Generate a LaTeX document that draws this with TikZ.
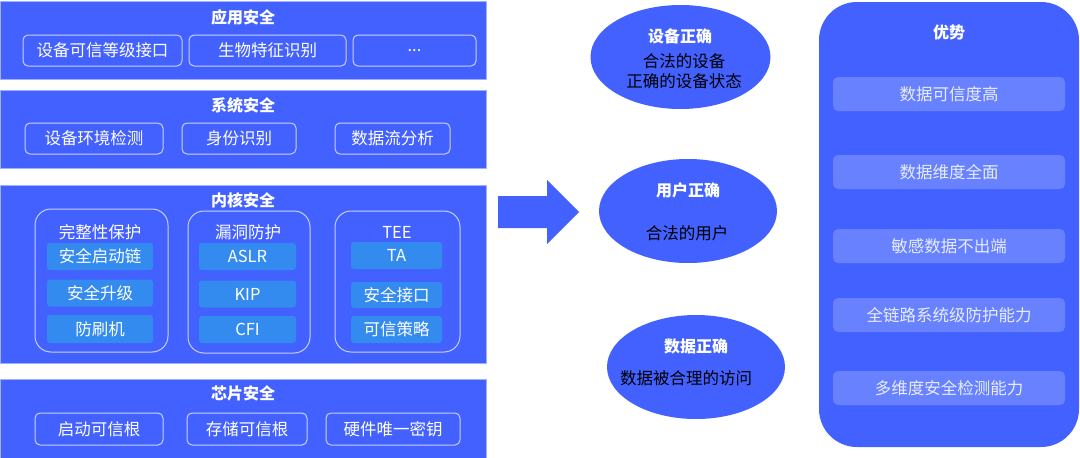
\documentclass[tikz,border=0pt]{standalone}
\usepackage{fontspec}
\setmainfont{Noto Sans CJK SC}
\usetikzlibrary{shapes.geometric}
\definecolor{mainblue}{RGB}{67,97,255}
\definecolor{innerblue}{RGB}{51,139,239}
\definecolor{lineblue}{RGB}{200,208,255}
\definecolor{itemfill}{RGB}{104,130,255}
\definecolor{itemtext}{RGB}{232,236,255}
\begin{document}
\begin{tikzpicture}[x=1pt,y=-1pt,
  txt/.style={font=\fontsize{16.5}{18}\selectfont, text=white, inner sep=0pt},
  ttl/.style={font=\fontsize{16}{18}\selectfont\bfseries, text=white, inner sep=0pt},
  layerbox/.style={fill=mainblue, draw=lineblue!70!mainblue, line width=0.8pt, inner sep=0pt},
  subbox/.style={draw=lineblue, line width=1pt, rounded corners=5pt, inner sep=0pt, font=\fontsize{16.5}{18}\selectfont, text=white},
  groupbox/.style={draw=lineblue, line width=1pt, rounded corners=16pt, inner sep=0pt},
  innerbox/.style={fill=innerblue, rounded corners=3pt, inner sep=0pt, font=\fontsize{16.5}{18}\selectfont, text=white},
  ell/.style={ellipse, fill=mainblue, draw=none, inner sep=0pt},
  etxt/.style={font=\fontsize{16.5}{18}\selectfont, text=black, inner sep=0pt},
  item/.style={fill=itemfill, rounded corners=5pt, inner sep=0pt, minimum width=232pt, minimum height=34pt, font=\fontsize{16.5}{18}\selectfont, text=itemtext}
]
\useasboundingbox (0,0) rectangle (1080,458);

% layers
\node[layerbox, minimum width=486pt, minimum height=78pt] (L1) at (243,40) {};
\node[layerbox, minimum width=486pt, minimum height=78pt] (L2) at (243,129) {};
\node[layerbox, minimum width=486pt, minimum height=178pt] (L3) at (243,274) {};
\node[layerbox, minimum width=486pt, minimum height=79pt] (L4) at (243,418.5) {};

\node[ttl] (t1) at (243,17) {应用安全};
\node[ttl] (t2) at (243,105) {系统安全};
\node[ttl] (t3) at (243,200) {内核安全};
\node[ttl] (t4) at (243,393) {芯片安全};

% app layer
\node[subbox, minimum width=159pt, minimum height=31pt] (a1) at (102.5,50.5) {设备可信等级接口};
\node[subbox, minimum width=157pt, minimum height=31pt] (a2) at (267.5,50.5) {生物特征识别};
\node[subbox, minimum width=123pt, minimum height=31pt] (a3) at (414.5,50.5) {...};

% system layer
\node[subbox, minimum width=138pt, minimum height=31pt] (s1) at (94,138.5) {设备环境检测};
\node[subbox, minimum width=114pt, minimum height=31pt] (s2) at (239,138.5) {身份识别};
\node[subbox, minimum width=115pt, minimum height=31pt] (s3) at (392.5,138.5) {数据流分析};

% kernel layer
\node[groupbox, minimum width=133pt, minimum height=143pt] (g1) at (101.5,280.5) {};
\node[groupbox, minimum width=122pt, minimum height=142pt] (g2) at (249,282) {};
\node[groupbox, minimum width=125pt, minimum height=141pt] (g3) at (397.5,281.5) {};
\node[txt] (g1t) at (100,232) {完整性保护};
\node[txt] (g2t) at (248,232) {漏洞防护};
\node[txt] (g3t) at (397,232) {TEE};

\node[innerbox, minimum width=106pt, minimum height=27pt] (k11) at (100,256.5) {安全启动链};
\node[innerbox, minimum width=106pt, minimum height=27pt] (k12) at (100,293) {安全升级};
\node[innerbox, minimum width=106pt, minimum height=28pt] (k13) at (100,329) {防刷机};
\node[innerbox, minimum width=97pt, minimum height=27pt] (k21) at (247.5,256.5) {ASLR};
\node[innerbox, minimum width=97pt, minimum height=27pt] (k22) at (247.5,294) {KIP};
\node[innerbox, minimum width=97pt, minimum height=27pt] (k23) at (247.5,329.5) {CFI};
\node[innerbox, minimum width=91pt, minimum height=27pt] (k31) at (396.5,255.5) {TA};
\node[innerbox, minimum width=91pt, minimum height=26pt] (k32) at (396.5,295) {安全接口};
\node[innerbox, minimum width=91pt, minimum height=27pt] (k33) at (396.5,329.5) {可信策略};

% chip layer
\node[subbox, minimum width=128pt, minimum height=32pt] (c1) at (99,429) {启动可信根};
\node[subbox, minimum width=120pt, minimum height=32pt] (c2) at (247,429) {存储可信根};
\node[subbox, minimum width=134pt, minimum height=32pt] (c3) at (393,429) {硬件唯一密钥};

% big arrow
\coordinate (ar1) at (498,196);
\coordinate (ar2) at (547,196);
\coordinate (ar3) at (547,180);
\coordinate (ar4) at (579,212);
\coordinate (ar5) at (547,244);
\coordinate (ar6) at (547,228);
\coordinate (ar7) at (498,228);
\fill[mainblue] (ar1) -- (ar2) -- (ar3) -- (ar4) -- (ar5) -- (ar6) -- (ar7) -- cycle;

% ellipses
\node[ell, minimum width=180pt, minimum height=104pt] (e1) at (680.5,57) {};
\node[ttl] (e1t) at (680,36) {设备正确};
\node[etxt] (e1a) at (684,61) {合法的设备};
\node[etxt] (e1b) at (684,81) {正确的设备状态};

\node[ell, minimum width=178pt, minimum height=104pt] (e2) at (688,211) {};
\node[ttl] (e2t) at (688,190) {用户正确};
\node[etxt] (e2a) at (687,233) {合法的用户};

\node[ell, minimum width=178pt, minimum height=104pt] (e3) at (696,367) {};
\node[ttl] (e3t) at (696,346) {数据正确};
\node[etxt] (e3a) at (686,378) {数据被合理的访问};

% advantages panel
\node[fill=mainblue, rounded corners=38pt, minimum width=260pt, minimum height=445pt, inner sep=0pt] (adv) at (949,224.5) {};
\node[ttl] (advt) at (949,32) {优势};
\node[item] (i1) at (949,94) {数据可信度高};
\node[item] (i2) at (949,172) {数据维度全面};
\node[item] (i3) at (949,246) {敏感数据不出端};
\node[item] (i4) at (949,315) {全链路系统级防护能力};
\node[item] (i5) at (949,388) {多维度安全检测能力};
\end{tikzpicture}
\end{document}
